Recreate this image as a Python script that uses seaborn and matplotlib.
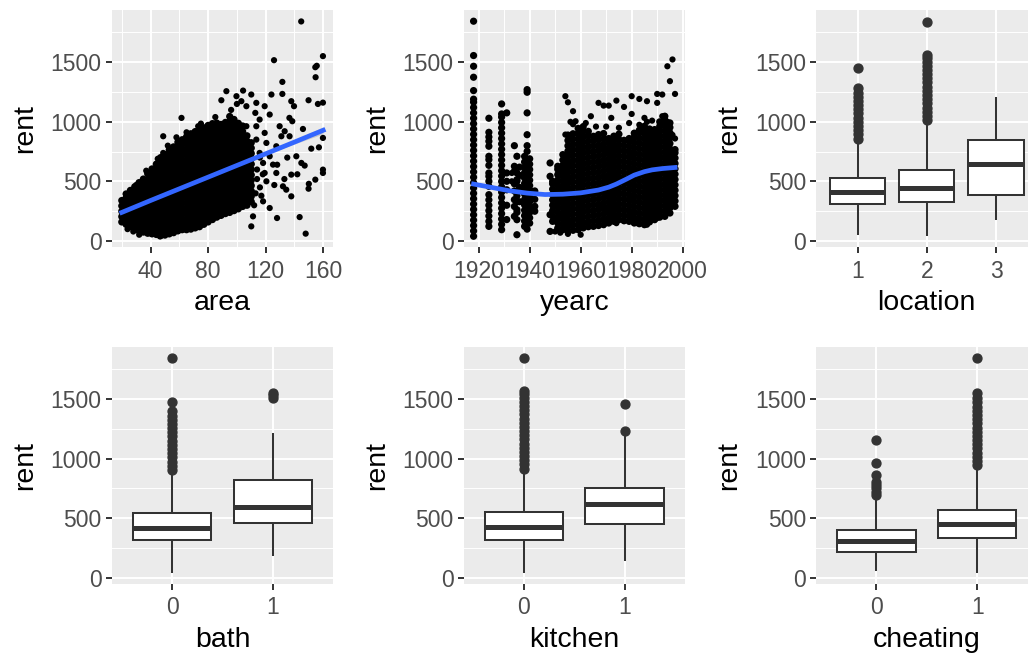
import matplotlib
matplotlib.use("Agg")
import matplotlib.pyplot as plt
import pandas as pd
import seaborn as sns

# ---------------- data: rent vs area (dense cloud read column by column) ----------------
area_cols = [20, 23, 26, 29, 32, 35, 38, 41, 44, 47, 50, 53, 56, 59, 62, 65, 68, 71, 74, 77,
             80, 83, 86, 89, 92, 95, 98, 101, 104, 107, 110]
area_col_rents = [
    [160, 205, 250, 295, 340],
    [140, 183, 228, 273, 318, 363, 395],
    [120, 165, 210, 255, 300, 345, 390, 425],
    [100, 143, 188, 233, 278, 323, 368, 413, 455],
    [85, 130, 175, 220, 265, 310, 355, 400, 445, 490],
    [75, 118, 163, 208, 253, 298, 343, 388, 433, 478, 520],
    [65, 110, 155, 200, 245, 290, 335, 380, 425, 470, 515, 565],
    [60, 103, 148, 193, 238, 283, 328, 373, 418, 463, 508, 553, 605],
    [55, 100, 145, 190, 235, 280, 325, 370, 415, 460, 505, 550, 595, 645],
    [45, 88, 133, 178, 223, 268, 313, 358, 403, 448, 493, 538, 583, 628, 673, 700],
    [50, 95, 140, 185, 230, 275, 320, 365, 410, 455, 500, 545, 590, 635, 680, 725],
    [60, 103, 148, 193, 238, 283, 328, 373, 418, 463, 508, 553, 598, 643, 688, 733, 765],
    [70, 115, 160, 205, 250, 295, 340, 385, 430, 475, 520, 565, 610, 655, 700, 745, 790],
    [85, 128, 173, 218, 263, 308, 353, 398, 443, 488, 533, 578, 623, 668, 713, 758, 803, 830],
    [95, 140, 185, 230, 275, 320, 365, 410, 455, 500, 545, 590, 635, 680, 725, 770, 815, 850],
    [95, 138, 183, 228, 273, 318, 363, 408, 453, 498, 543, 588, 633, 678, 723, 768, 813, 858, 875],
    [100, 145, 190, 235, 280, 325, 370, 415, 460, 505, 550, 595, 640, 685, 730, 775, 820, 865, 900],
    [110, 153, 198, 243, 288, 333, 378, 423, 468, 513, 558, 603, 648, 693, 738, 783, 828, 873, 918],
    [120, 165, 210, 255, 300, 345, 390, 435, 480, 525, 570, 615, 660, 705, 750, 795, 840, 885, 930],
    [140, 183, 228, 273, 318, 363, 408, 453, 498, 543, 588, 633, 678, 723, 768, 813, 858, 903, 950],
    [160, 205, 250, 295, 340, 385, 430, 475, 520, 565, 610, 655, 700, 745, 790, 835, 880, 925, 970],
    [180, 223, 268, 313, 358, 403, 448, 493, 538, 583, 628, 673, 718, 763, 808, 853, 898, 943, 985],
    [200, 245, 290, 335, 380, 425, 470, 515, 560, 605, 650, 695, 740, 785, 830, 875, 920, 965, 990],
    [215, 258, 303, 348, 393, 438, 483, 528, 573, 618, 663, 708, 753, 798, 843, 888, 933, 978],
    [230, 275, 320, 365, 410, 455, 500, 545, 590, 635, 680, 725, 770, 815, 860, 905, 950, 995],
    [240, 283, 328, 373, 418, 463, 508, 553, 598, 643, 688, 733, 778, 823, 868, 913, 958, 1003, 1045],
    [255, 300, 345, 390, 435, 480, 525, 570, 615, 660, 705, 750, 795, 840, 885, 930, 975, 1020],
    [270, 313, 358, 403, 448, 493, 538, 583, 628, 673, 718, 763, 808, 853, 898, 943, 988],
    [290, 335, 380, 425, 470, 515, 560, 605, 650, 695, 740, 785, 830, 875, 920, 965],
    [300, 343, 388, 433, 478, 523, 568, 613, 658, 703, 748, 793, 838, 883],
    [330, 375, 420, 465, 510, 555, 600, 645, 690, 735, 780, 825],
]
area_sparse = [144.7, 125.8, 159.8, 154.5, 155.5, 154.7, 131.6, 131.6, 124.0, 149.8,
               159.8, 156.3, 137.8, 139.7, 136.5, 138.5, 145.9, 129.7, 133.2, 136.6,
               130.9, 127.4, 141.3, 151.7, 157.0, 159.8, 147.1, 144.8, 159.8, 159.8,
               154.5, 149.8, 143.6, 147.8, 127.9, 122.8, 118.2, 137.8, 134.3, 132.0,
               137.8, 127.4, 120.5, 125.1, 119.3, 118.2, 122.8, 120.5, 119.3, 122.8,
               119.3, 113.5, 110.0, 104.3, 99.7, 92.7, 89.2, 103.1, 106.6, 112.8,
               115.8, 106.6, 113.5, 108.9, 113.5, 115.8, 110.0, 111.2, 73.1, 61.5,
               48.8, 48.8, 65.0, 32.1, 46.5, 114.0, 116.0, 113.0, 112.0, 117.0,
               100.0, 96.0, 85.0, 75.0, 58.0, 52.0, 45.0, 37.0, 30.0, 24.0,
               28.0, 128.0, 135.0, 142.0, 150.0, 126.0, 133.0, 116.0, 118.0, 114.0]
area_sparse_rent = [1842, 1517, 1551, 1458, 1470, 1374, 1335, 1234, 1229, 1181,
                    1161, 1150, 1173, 1131, 1033, 1005, 940, 963, 921, 879,
                    879, 795, 711, 775, 786, 865, 633, 655, 599, 571,
                    515, 439, 201, 62, 193, 277, 333, 375, 431, 459,
                    557, 571, 501, 641, 571, 655, 711, 823, 907, 1061,
                    1131, 1159, 1229, 1262, 1215, 1257, 1181, 1173, 1131, 1075,
                    1019, 963, 963, 767, 851, 739, 123, 207, 963, 1033,
                    879, 739, 912, 53, 39, 600, 450, 400, 300, 380,
                    1150, 1100, 1040, 985, 870, 800, 690, 590, 470, 100,
                    80, 640, 700, 560, 480, 470, 520, 700, 560, 520]
smooth_area = [20, 30, 40, 50, 60, 70, 80, 90, 100, 110, 120, 130, 140, 150, 160]
smooth_area_rent = [240, 290, 340, 389, 438, 487, 536, 585, 634, 683, 732, 781, 830, 880, 929]
band_area = [120, 130, 140, 150, 160]
band_area_lo = [726, 771, 814, 857, 898]
band_area_hi = [738, 791, 846, 903, 960]

# ---------------- data: rent vs yearc ----------------
yc_cols = [1918, 1924, 1929, 1931, 1934, 1935, 1936, 1938, 1939, 1940, 1942, 1948,
           1949, 1951, 1953, 1955, 1957, 1959, 1961, 1963, 1965, 1967, 1969, 1971,
           1973, 1975, 1977, 1979, 1981, 1983, 1985, 1987, 1989, 1991, 1993, 1995, 1997]
yc_col_rents = [
    [40, 85, 130, 175, 220, 265, 310, 355, 400, 445, 490, 535, 580, 625, 670, 715, 760, 805,
     850, 895, 940, 985, 1030, 1075, 1120, 1165, 1190, 1262, 1374, 1466, 1556, 1844],
    [123, 165, 210, 255, 300, 345, 389, 459, 501, 543, 571, 635, 683, 711, 795, 837, 873, 912, 1030],
    [95, 140, 185, 230, 275, 320, 365, 410, 455, 500, 545, 590, 635, 680, 725, 770, 815, 860,
     905, 950, 995, 1040, 1066, 1150],
    [180, 300, 430, 501, 571, 1075],
    [207, 290, 347, 420, 480, 585, 627, 800],
    [53, 179, 240, 263, 330, 380, 403, 501, 515, 571, 711],
    [330, 450, 550, 620],
    [123, 168, 213, 258, 303, 348, 393, 438, 483, 528, 573, 618, 663, 710],
    [100, 145, 190, 235, 280, 325, 370, 415, 460, 505, 550, 595, 640, 685, 752, 800, 892, 1075, 1248, 1270],
    [150, 195, 240, 285, 330, 375, 420, 465, 510, 555, 600, 645, 690],
    [250, 291, 350, 420],
    [81, 221, 543, 655],
    [165, 210, 255, 300, 345, 390, 435, 480, 501],
    [109, 152, 197, 242, 287, 332, 377, 422, 467, 512, 557, 602, 627],
    [95, 140, 185, 230, 275, 320, 365, 410, 455, 500, 545, 590, 635, 680, 725],
    [81, 124, 169, 214, 259, 304, 349, 394, 439, 484, 529, 574, 619, 664, 709, 754, 799, 844, 889],
    [90, 135, 180, 225, 270, 315, 360, 405, 450, 495, 540, 585, 630, 675, 720, 765, 810, 855, 900],
    [95, 138, 183, 228, 273, 318, 363, 408, 453, 498, 543, 588, 633, 678, 723, 768, 813, 858, 903, 945],
    [110, 155, 200, 245, 290, 335, 380, 425, 470, 515, 560, 605, 650, 695, 740, 785, 830, 875, 920, 960],
    [120, 163, 208, 253, 298, 343, 388, 433, 478, 523, 568, 613, 658, 703, 748, 793, 838, 883, 920],
    [123, 168, 213, 258, 303, 348, 393, 438, 483, 528, 573, 618, 663, 708, 753, 798, 843, 879],
    [130, 173, 218, 263, 308, 353, 398, 443, 488, 533, 578, 623, 668, 713, 758, 803, 848, 893],
    [137, 182, 227, 272, 317, 362, 407, 452, 497, 542, 587, 632, 677, 722, 767, 812, 857, 902],
    [151, 194, 239, 284, 329, 374, 419, 464, 509, 554, 599, 644, 689, 734, 779, 824, 860],
    [165, 210, 255, 300, 345, 390, 435, 480, 525, 570, 615, 660, 705, 750, 795, 840, 880],
    [179, 222, 267, 312, 357, 402, 447, 492, 537, 582, 627, 672, 717, 762, 807, 852, 897],
    [170, 215, 260, 305, 350, 395, 440, 485, 530, 575, 620, 665, 710, 755, 800, 845],
    [165, 208, 253, 298, 343, 388, 433, 478, 523, 568, 613, 658, 703, 748, 793, 838, 860],
    [151, 196, 241, 286, 331, 376, 421, 466, 511, 556, 601, 646, 691, 736, 781, 826, 871, 905],
    [145, 188, 233, 278, 323, 368, 413, 458, 503, 548, 593, 638, 683, 728, 773, 818, 863, 908, 930],
    [137, 182, 227, 272, 317, 362, 407, 452, 497, 542, 587, 632, 677, 722, 767, 812, 857, 902, 947, 963],
    [160, 203, 248, 293, 338, 383, 428, 473, 518, 563, 608, 653, 698, 743, 788, 833, 878, 923, 940],
    [179, 224, 269, 314, 359, 404, 449, 494, 539, 584, 629, 674, 719, 764, 809, 854, 899, 935],
    [200, 243, 288, 333, 378, 423, 468, 513, 558, 603, 648, 693, 738, 783, 828, 873, 918, 963, 1000],
    [207, 252, 297, 342, 387, 432, 477, 522, 567, 612, 657, 702, 747, 792, 837, 882, 927, 972, 1017, 1047],
    [235, 278, 323, 368, 413, 458, 503, 548, 593, 638, 683, 728, 773, 818, 863, 908, 953, 991],
    [291, 336, 381, 426, 471, 516, 561, 606, 651, 696, 741, 767],
]
yc_sparse = [1954, 1955, 1957, 1958, 1960, 1954, 1964, 1967, 1969, 1971,
             1972, 1974, 1977, 1980, 1980, 1983, 1986, 1985, 1990, 1990,
             1992, 1992, 1994, 1996, 1995, 1997, 1960, 1974, 1982, 1986,
             1990, 1957, 1962, 1966, 1970, 1975, 1979, 1983, 1986, 1988,
             1994, 1996, 1997, 1950, 1952, 1955, 1933, 1941, 1933, 1956]
yc_sparse_rent = [1215, 1164, 1089, 1005, 921, 893, 1047, 1159, 1136, 1136,
                  1033, 1178, 1125, 1066, 1215, 1192, 1173, 1033, 1159, 1234,
                  1229, 1047, 1466, 1523, 1341, 1234, 53, 150, 151, 137,
                  193, 980, 990, 960, 960, 950, 990, 975, 1000, 1010,
                  1000, 890, 860, 80, 70, 60, 571, 420, 501, 1000]
smooth_yc = [1918, 1925, 1932, 1939, 1946, 1953, 1960, 1967, 1971, 1974, 1978, 1981, 1985, 1988, 1992, 1997]
smooth_yc_rent = [478, 450, 422, 402, 390, 393, 404, 428, 452, 478, 520, 553, 582, 597, 608, 617]

# ---------------- data: boxplot summaries ----------------
loc_levels = ["1", "2", "3"]
loc_lo = [53, 45, 179]
loc_q1 = [313, 327, 389]
loc_med = [411, 445, 646]
loc_q3 = [529, 599, 845]
loc_hi = [830, 995, 1209]
loc_out = [[860, 895, 930, 965, 1000, 1035, 1070, 1105, 1140, 1175, 1210, 1245, 1280, 1453],
           [1015, 1050, 1085, 1120, 1155, 1190, 1225, 1260, 1295, 1330, 1365, 1400, 1435, 1470,
            1505, 1535, 1564, 1836],
           []]

bin_levels = ["0", "1"]
bath_lo = [42, 179]
bath_q1 = [314, 460]
bath_med = [420, 594]
bath_q3 = [547, 819]
bath_hi = [880, 1211]
bath_out = [[905, 940, 975, 1010, 1045, 1080, 1115, 1150, 1185, 1220, 1255, 1290, 1325, 1360,
             1400, 1470, 1847],
            [1505, 1530, 1553]]

kitchen_lo = [42, 137]
kitchen_q1 = [314, 449]
kitchen_med = [426, 617]
kitchen_q3 = [552, 754]
kitchen_hi = [890, 1200]
kitchen_out = [[915, 950, 985, 1020, 1055, 1090, 1125, 1160, 1195, 1230, 1265, 1300, 1335, 1370,
                1405, 1440, 1475, 1510, 1545, 1567, 1847],
               [1231, 1458]]

cheat_lo = [56, 42]
cheat_q1 = [216, 334]
cheat_med = [306, 449]
cheat_q3 = [404, 572]
cheat_hi = [656, 920]
cheat_out = [[692, 720, 750, 780, 805, 861, 964, 1155],
             [945, 980, 1015, 1050, 1085, 1120, 1155, 1190, 1225, 1260, 1295, 1330, 1365, 1400,
              1435, 1470, 1505, 1547, 1847]]

# ---------------- style ----------------
plt.rcParams['font.family'] = ['Liberation Sans', 'DejaVu Sans']
W, H = 1028, 653
fig = plt.figure(figsize=(W / 100, H / 100), dpi=100)
col_x = [111.7, 463.5, 816.0]
row_top = [10.0, 346.7]
PW, PH = 221.6, 237.0

PANEL = '#EBEBEB'
DARK = '#333333'


def make_ax(r, c):
    return fig.add_axes([col_x[c] / W, 1 - (row_top[r] + PH) / H, PW / W, PH / H])


def style(ax, xlabel):
    ax.set_facecolor(PANEL)
    for s in ax.spines.values():
        s.set_visible(False)
    ax.set_axisbelow(True)
    ax.set_ylim(-50, 1938)
    ax.set_yticks([0, 500, 1000, 1500])
    ax.set_yticks([250, 750, 1250, 1750], minor=True)
    ax.grid(which='major', color='white', linewidth=1.4)
    ax.grid(which='minor', color='white', linewidth=0.7)
    ax.tick_params(which='major', length=4.2, width=1.4, color=DARK, labelsize=16.5,
                   labelcolor='#4D4D4D')
    ax.tick_params(axis='y', which='major', pad=3)
    ax.tick_params(axis='x', which='major', pad=5)
    ax.tick_params(which='minor', length=0)
    ax.set_xlabel(xlabel, fontsize=20.5, color='black', labelpad=5.5)
    ax.set_ylabel('rent', fontsize=20.5, color='black', labelpad=9)


def box_frame(levels, lo, q1, med, q3, hi, outs, k=60):
    cats, vals = [], []
    for i, lev in enumerate(levels):
        v = [lo[i]] + [q1[i]] * k + [med[i]] * k + [q3[i]] * k + [hi[i]] + list(outs[i])
        vals += v
        cats += [lev] * len(v)
    return pd.DataFrame({'cat': cats, 'rent': vals})


DENSE_S = 27
SPARSE_S = 20

# panel 1: area
ax = make_ax(0, 0)
dx = [a for a, rs in zip(area_cols, area_col_rents) for _ in rs]
dy = [r for rs in area_col_rents for r in rs]
sns.scatterplot(x=dx, y=dy, ax=ax, s=DENSE_S, color='black', linewidth=0, edgecolor='none')
sns.scatterplot(x=area_sparse, y=area_sparse_rent, ax=ax, s=SPARSE_S, color='black',
                linewidth=0, edgecolor='none')
ax.fill_between(band_area, band_area_lo, band_area_hi, color='#999999', alpha=0.4, linewidth=0)
sns.lineplot(x=smooth_area, y=smooth_area_rent, ax=ax, color='#3366FF', linewidth=3.4)
ax.set_xlim(13, 167)
ax.set_xticks([40, 80, 120, 160])
ax.set_xticks([20, 60, 100, 140], minor=True)
style(ax, 'area')

# panel 2: yearc
ax = make_ax(0, 1)
yx = [a for a, rs in zip(yc_cols, yc_col_rents) for _ in rs]
yy = [r for rs in yc_col_rents for r in rs]
sns.scatterplot(x=yx, y=yy, ax=ax, s=DENSE_S, color='black', linewidth=0, edgecolor='none')
sns.scatterplot(x=yc_sparse, y=yc_sparse_rent, ax=ax, s=SPARSE_S, color='black',
                linewidth=0, edgecolor='none')
sns.lineplot(x=smooth_yc, y=smooth_yc_rent, ax=ax, color='#3366FF', linewidth=3.4)
ax.set_xlim(1914.05, 2000.95)
ax.set_xticks([1920, 1940, 1960, 1980, 2000])
ax.set_xticks([1930, 1950, 1970, 1990], minor=True)
style(ax, 'yearc')

# boxplot panels
box_specs = [
    ((0, 2), 'location', loc_levels, loc_lo, loc_q1, loc_med, loc_q3, loc_hi, loc_out, 0.8),
    ((1, 0), 'bath', bin_levels, bath_lo, bath_q1, bath_med, bath_q3, bath_hi, bath_out, 0.78),
    ((1, 1), 'kitchen', bin_levels, kitchen_lo, kitchen_q1, kitchen_med, kitchen_q3, kitchen_hi,
     kitchen_out, 0.78),
    ((1, 2), 'cheating', bin_levels, cheat_lo, cheat_q1, cheat_med, cheat_q3, cheat_hi, cheat_out,
     0.78),
]
for (r, c), name, levels, lo, q1, med, q3, hi, outs, wd in box_specs:
    ax = make_ax(r, c)
    df = box_frame(levels, lo, q1, med, q3, hi, outs)
    sns.boxplot(data=df, x='cat', y='rent', order=levels, ax=ax, color='white',
                linecolor=DARK, linewidth=1.45, width=wd, saturation=1, showcaps=False,
                fliersize=6.4,
                flierprops=dict(marker='o', markerfacecolor=DARK, markeredgecolor=DARK),
                medianprops=dict(color=DARK, linewidth=3.6))
    ax.set_xlim(-0.6, len(levels) - 0.4)
    style(ax, name)
    ax.xaxis.grid(True, which='major', color='white', linewidth=1.4)

fig.savefig('out.png', dpi=100)
